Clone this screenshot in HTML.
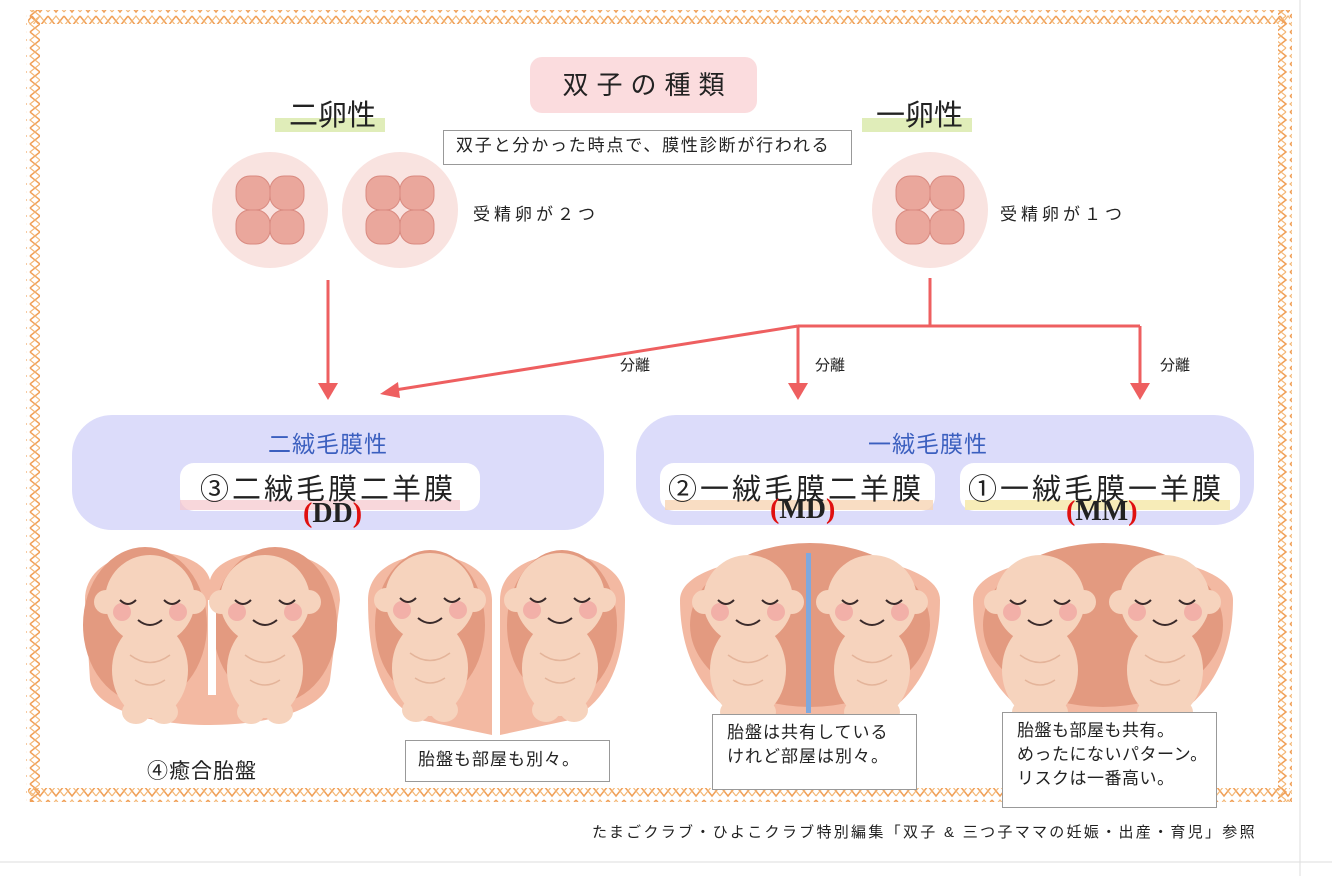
<!DOCTYPE html>
<html><head><meta charset="utf-8"><style>
body{margin:0;background:#fff;}
#c{position:relative;width:1332px;height:876px;overflow:hidden;font-family:"Liberation Sans","Noto Sans CJK JP",sans-serif;color:#222;}
.a{position:absolute;white-space:nowrap;}
.box{position:absolute;background:#fff;border:1px solid #999;font-size:17px;letter-spacing:1px;line-height:24px;padding:4px 10px;box-sizing:border-box;white-space:nowrap;}
</style></head><body><div id="c">
<svg width="1332" height="876" style="position:absolute;left:0;top:0">
<defs>
<pattern id="zh" width="16" height="14" patternUnits="userSpaceOnUse"><polyline points="0,2 8,12 16,2" fill="none" stroke="#f0a058" stroke-width="1.5"/><polyline points="0,12 8,2 16,12" fill="none" stroke="#f4b878" stroke-width="1.2"/></pattern>
<pattern id="zv" width="14" height="16" patternUnits="userSpaceOnUse"><polyline points="2,0 12,8 2,16" fill="none" stroke="#f0a058" stroke-width="1.5"/><polyline points="12,0 2,8 12,16" fill="none" stroke="#f4b878" stroke-width="1.2"/></pattern>
<g id="egg"><circle r="58" fill="#f9e3e0"/><g fill="#eaa79c" stroke="#d98a80" stroke-width="1"><rect x="-34" y="-34" width="34" height="34" rx="14"/><rect x="0" y="-34" width="34" height="34" rx="14"/><rect x="-34" y="0" width="34" height="34" rx="14"/><rect x="0" y="0" width="34" height="34" rx="14"/></g></g>
<g id="baby"><ellipse cx="0" cy="70" rx="38" ry="48" fill="#f6d3bd"/><ellipse cx="-14" cy="112" rx="14" ry="12" fill="#f6d3bd"/><ellipse cx="14" cy="112" rx="14" ry="12" fill="#f6d3bd"/><circle cx="0" cy="0" r="45" fill="#f6d3bd"/><circle cx="-44" cy="2" r="12" fill="#f6d3bd"/><circle cx="44" cy="2" r="12" fill="#f6d3bd"/><circle cx="-28" cy="12" r="9" fill="#f2b0a8"/><circle cx="28" cy="12" r="9" fill="#f2b0a8"/><path d="M-30,0 q8,8 16,0 M14,0 q8,8 16,0 M-12,20 q12,10 24,0" stroke="#3a2a2a" stroke-width="2" fill="none"/><path d="M-20,55 q20,15 40,0 M-15,80 q15,10 30,0" stroke="#e4b49a" stroke-width="1.5" fill="none"/></g>
</defs>
<rect x="28" y="10" width="1262" height="14" fill="url(#zh)"/>
<rect x="28" y="788" width="1262" height="14" fill="url(#zh)"/>
<rect x="26" y="10" width="14" height="792" fill="url(#zv)"/>
<rect x="1278" y="10" width="14" height="792" fill="url(#zv)"/>
<g stroke="#ddd"><line x1="1300" y1="0" x2="1300" y2="876"/><line x1="0" y1="862" x2="1332" y2="862"/></g>
<use href="#egg" x="270" y="210"/><use href="#egg" x="400" y="210"/><use href="#egg" x="930" y="210"/>
<g stroke="#ee5f60" stroke-width="3" fill="none"><line x1="328" y1="280" x2="328" y2="385"/><polyline points="930,278 930,326 1140,326"/><line x1="798" y1="326" x2="930" y2="326"/><line x1="798" y1="326" x2="798" y2="385"/><line x1="1140" y1="326" x2="1140" y2="385"/><line x1="798" y1="326" x2="395" y2="390"/></g>
<g fill="#ee5f60"><polygon points="318,383 338,383 328,400"/><polygon points="788,383 808,383 798,400"/><polygon points="1130,383 1150,383 1140,400"/><polygon points="380,394 398,382 400,398"/></g>
<rect x="72" y="415" width="532" height="115" rx="40" fill="#dcdcfa"/>
<rect x="636" y="415" width="618" height="110" rx="40" fill="#dcdcfa"/>
<rect x="180" y="463" width="300" height="48" rx="14" fill="#fff"/>
<rect x="660" y="463" width="275" height="48" rx="14" fill="#fff"/>
<rect x="960" y="463" width="280" height="48" rx="14" fill="#fff"/>
<rect x="180" y="500" width="280" height="10" fill="#f5c6cc" opacity=".7"/>
<rect x="665" y="500" width="268" height="10" fill="#f8d4b4" opacity=".8"/>
<rect x="965" y="500" width="265" height="10" fill="#f6eab0" opacity=".9"/>
<rect x="275" y="118" width="110" height="14" fill="#d8e8a8" opacity=".8"/>
<rect x="862" y="118" width="110" height="14" fill="#d8e8a8" opacity=".8"/>
<path d="M85,600 C85,540 200,540 210,580 C220,540 340,540 340,600 L330,680 C320,740 100,740 90,680 Z" fill="#f3b9a2"/>
<ellipse cx="145" cy="625" rx="62" ry="78" fill="#e39a80"/><ellipse cx="275" cy="625" rx="62" ry="78" fill="#e39a80"/>
<rect x="208" y="600" width="8" height="95" fill="#fff"/>
<use href="#baby" x="150" y="600"/><use href="#baby" x="265" y="600"/>
<path d="M368,600 C368,540 490,540 492,600 L492,735 L420,720 C380,700 368,660 368,600 Z" fill="#f3b9a2"/>
<path d="M500,600 C500,540 625,540 625,600 C625,660 610,700 570,720 L500,735 Z" fill="#f3b9a2"/>
<ellipse cx="430" cy="625" rx="55" ry="75" fill="#e39a80"/><ellipse cx="562" cy="625" rx="55" ry="75" fill="#e39a80"/>
<use href="#baby" x="430" y="598"/><use href="#baby" x="560" y="598"/>
<path d="M680,600 C680,540 940,540 940,600 C940,690 880,735 810,735 C740,735 680,690 680,600 Z" fill="#f3b9a2"/>
<ellipse cx="810" cy="625" rx="120" ry="82" fill="#e39a80"/>
<use href="#baby" x="748" y="600"/><use href="#baby" x="872" y="600"/>
<rect x="806" y="553" width="5" height="160" fill="#7fa8de"/>
<path d="M973,600 C973,540 1233,540 1233,600 C1233,690 1173,735 1103,735 C1033,735 973,690 973,600 Z" fill="#f3b9a2"/>
<ellipse cx="1103" cy="625" rx="120" ry="82" fill="#e39a80"/>
<use href="#baby" x="1040" y="600"/><use href="#baby" x="1165" y="600"/>
</svg>
<div class="a" style="left:530px;top:57px;width:227px;height:56px;background:#fbdcde;border-radius:12px;text-align:center;line-height:56px;font-size:26px;letter-spacing:8px;text-indent:8px;">双子の種類</div>
<div class="a" style="left:289px;top:92px;font-size:29px;">二卵性</div>
<div class="a" style="left:876px;top:92px;font-size:29px;">一卵性</div>
<div class="box" style="left:443px;top:130px;width:409px;height:35px;padding:3px 12px;font-size:17px;letter-spacing:1.8px;">双子と分かった時点で、膜性診断が行われる</div>
<div class="a" style="left:473px;top:200px;font-size:17px;letter-spacing:4px;">受精卵が２つ</div>
<div class="a" style="left:1000px;top:200px;font-size:17px;letter-spacing:4px;">受精卵が１つ</div>
<div class="a" style="left:620px;top:354px;font-size:15px;">分離</div>
<div class="a" style="left:815px;top:354px;font-size:15px;">分離</div>
<div class="a" style="left:1160px;top:354px;font-size:15px;">分離</div>
<div class="a" style="left:268px;top:425px;font-size:23px;letter-spacing:1px;color:#3b5fbf;">二絨毛膜性</div>
<div class="a" style="left:868px;top:425px;font-size:23px;letter-spacing:1px;color:#3b5fbf;">一絨毛膜性</div>
<div class="a" style="left:200px;top:466px;font-size:29px;letter-spacing:3px;">③二絨毛膜二羊膜</div>
<div class="a" style="left:668px;top:466px;font-size:29px;letter-spacing:3px;">②一絨毛膜二羊膜</div>
<div class="a" style="left:968px;top:466px;font-size:29px;letter-spacing:3px;">①一絨毛膜一羊膜</div>
<div class="a" style="left:303px;top:498px;font-size:28px;font-weight:bold;font-family:'Liberation Serif',serif;"><span style="color:#e01010">(</span>DD<span style="color:#e01010">)</span></div>
<div class="a" style="left:770px;top:494px;font-size:28px;font-weight:bold;font-family:'Liberation Serif',serif;"><span style="color:#e01010">(</span>MD<span style="color:#e01010">)</span></div>
<div class="a" style="left:1066px;top:496px;font-size:28px;font-weight:bold;font-family:'Liberation Serif',serif;"><span style="color:#e01010">(</span>MM<span style="color:#e01010">)</span></div>
<div class="a" style="left:147px;top:755px;font-size:21px;letter-spacing:1px;">④癒合胎盤</div>
<div class="box" style="left:405px;top:740px;width:205px;height:42px;padding:7px 12px;">胎盤も部屋も別々。</div>
<div class="box" style="left:712px;top:714px;width:205px;height:76px;padding:6px 14px;">胎盤は共有している<br>けれど部屋は別々。</div>
<div class="box" style="left:1002px;top:712px;width:215px;height:96px;padding:6px 14px;letter-spacing:0.5px;">胎盤も部屋も共有。<br>めったにないパターン。<br>リスクは一番高い。</div>
<div class="a" style="left:592px;top:821px;font-size:15px;letter-spacing:2.3px;">たまごクラブ・ひよこクラブ特別編集「双子 &amp; 三つ子ママの妊娠・出産・育児」参照</div>
</div></body></html>
